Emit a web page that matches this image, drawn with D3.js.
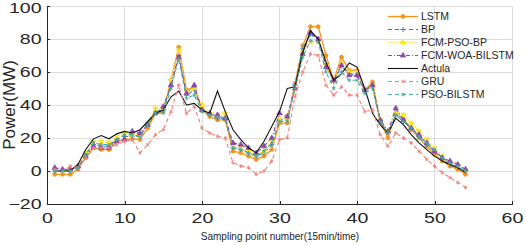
<!DOCTYPE html>
<html lang="en">
<head>
    <meta charset="UTF-8">
    <title>Power forecast comparison</title>
    <script src="https://cdn.jsdelivr.net/npm/d3@7/dist/d3.min.js"></script>
    <style>
        body { margin: 0; background: #fff; }
        .axis path, .axis line {
            fill: none;
            stroke: #262626;
            shape-rendering: crispEdges;
        }
        .axis text {
            font-family: "Liberation Sans", Arial, sans-serif;
            font-size: 14.5px;
            fill: #262626;
        }
        .grid line {
            stroke: #dcdcdc;
            shape-rendering: crispEdges;
        }
        .legend text {
            font-family: "Liberation Sans", Arial, sans-serif;
            font-size: 10.5px;
            fill: #262626;
        }
    </style>
</head>
<body>
<script>
    // x 轴：采样点 1..54
    const samples = d3.range(1, 55);

    const lstm = [-2, -2, -2, 1, 8, 14, 13, 13, 18, 19, 19.5, 19, 26, 35, 36, 55, 75, 49, 51, 37,
        33, 31, 31, 12, 11, 9, 7, 9, 13, 29, 29, 53, 76, 87.5, 87.5, 70, 55, 69, 61, 61,
        49, 54, 30, 20, 35, 31, 25, 20, 15, 10, 6, 3, 1, -2];
    const bp = [0, 0, 0, 2, 10, 16, 15, 15, 19, 21, 21, 21, 28, 36, 37, 52, 70, 46, 49, 37,
        34, 32, 32, 14, 13, 11, 9, 11, 16, 31, 31, 52, 74, 83, 79, 65, 54, 64, 59, 58,
        48, 52, 30, 23, 34, 30, 26, 21, 16, 12, 7, 4, 2, 0];
    const fcmPsoBp = [1, 0, 1, 3, 11, 18, 18, 17, 21, 23, 22, 22, 29, 38, 38, 55, 73, 48, 50, 40,
        35, 34, 35, 15, 14, 12, 10, 12, 18, 32, 32, 50, 72, 78, 79, 64, 55, 65, 60, 60,
        49, 52, 31, 24, 35, 34, 29, 24, 19, 14, 9, 5, 3, 1];
    const fcmWoaBilstm = [2, 1, 1, 3, 9, 15, 14, 14, 18, 19, 24, 23, 28, 35, 39, 52, 69, 47, 52, 37,
        35, 34, 32, 17, 16, 14, 11, 15, 20, 35, 33, 50, 71, 84, 80, 63, 55, 64, 58, 58,
        49, 52, 31, 24, 38, 31, 26, 22, 17, 12, 8, 6, 4, 1];
    const actual = [0, 0, 0, 4, 13, 19.5, 21.5, 19.5, 22.5, 24, 23, 25, 30, 35, 37, 45, 48.5, 40, 41, 37,
        35, 48.5, 36, 25, 19, 14, 11, 18, 27, 36, 50, 51, 72, 85, 80, 66, 55, 59, 65.5, 63,
        50, 35, 28, 23, 32, 28, 22, 17, 13, 9, 6, 4, 2, -1];
    const gru = [1, 0, 3, 2, 8, 14, 14, 14, 16, 18, 19, 11, 16, 22, 25, 36, 52, 35, 39, 26,
        23, 21, 20, 5, 3, 2, -2, 0, 6, 19, 20, 45, 60, 71, 70, 52, 46, 51, 46, 46,
        36, 37, 22, 15, 23, 20, 17, 12, 7, 3, -1, -4, -7, -10];
    const psoBilstm = [0, 0, 0, 2, 10, 17, 16, 16, 19, 22, 22, 21, 28, 35, 35, 50, 68, 44, 46, 36,
        34, 33, 32, 14, 13, 11, 9, 12, 17, 30, 30, 50, 69, 79, 78, 60, 50, 60, 55, 55,
        47, 50, 30, 23, 34, 30, 26, 21, 17, 13, 8, 5, 3, 0];

    const xTicks = [0, 10, 20, 30, 40, 50, 60];
    const yTicks = [-20, 0, 20, 40, 60, 80, 100];

    const series = [
        {name: 'LSTM', values: lstm, color: '#f7941d', dash: null, width: 1.3, symbol: d3.symbolCircle, fill: true, size: 12},
        {name: 'BP', values: bp, color: '#2a7fc1', dash: '4,3', width: 1.1, symbol: d3.symbolPlus, fill: false, size: 10},
        {name: 'FCM-PSO-BP', values: fcmPsoBp, color: '#ffe21a', dash: '1.5,1.5', width: 1.1, symbol: d3.symbolStar, fill: true, size: 9},
        {name: 'FCM-WOA-BILSTM', values: fcmWoaBilstm, color: '#8e44ad', dash: '4,2,1,2', width: 1.1, symbol: d3.symbolTriangle, fill: true, size: 11},
        {name: 'Actula', values: actual, color: '#111', dash: null, width: 1.1, symbol: null},
        {name: 'GRU', values: gru, color: '#ef7f7a', dash: '4,3', width: 1.1, symbol: d3.symbolAsterisk, fill: false, size: 10},
        {name: 'PSO-BILSTM', values: psoBilstm, color: '#4aa99a', dash: '4,3', width: 1.1, symbol: d3.symbolAsterisk, fill: false, size: 10}
    ];

    const w = 526, h = 245;
    const mLeft = 47, mRight = 512, mTop = 6, mBottom = 204;

    const svg = d3.select('body').append('svg')
        .attr('width', w)
        .attr('height', h);

    const xScale = d3.scaleLinear().domain([0, 60]).range([mLeft, mRight]);
    const yScale = d3.scaleLinear().domain([-20, 100]).range([mBottom, mTop]);

    // 网格线
    const grid = svg.append('g').attr('class', 'grid');
    grid.selectAll('.gx').data(xTicks.slice(1)).enter().append('line')
        .attr('x1', d => xScale(d)).attr('x2', d => xScale(d))
        .attr('y1', mTop).attr('y2', mBottom);
    grid.selectAll('.gy').data(yTicks.slice(1)).enter().append('line')
        .attr('x1', mLeft).attr('x2', mRight)
        .attr('y1', d => yScale(d)).attr('y2', d => yScale(d));

    // 曲线
    const line = d3.line()
        .x((d, i) => xScale(samples[i]))
        .y(d => yScale(d));

    series.forEach(s => {
        const g = svg.append('g');
        g.append('path')
            .datum(s.values)
            .attr('fill', 'none')
            .attr('stroke', s.color)
            .attr('stroke-width', s.width)
            .attr('stroke-dasharray', s.dash)
            .attr('d', line);
        if (s.symbol) {
            g.selectAll('path.m')
                .data(s.values)
                .enter()
                .append('path')
                .attr('class', 'm')
                .attr('transform', (d, i) => 'translate(' + xScale(samples[i]) + ',' + yScale(d) + ')')
                .attr('d', d3.symbol().type(s.symbol).size(s.size))
                .attr('fill', s.fill ? s.color : 'none')
                .attr('stroke', s.color)
                .attr('stroke-width', 0.9);
        }
    });

    // 坐标轴（刻度朝内）
    const xAxis = d3.axisBottom(xScale).tickValues(xTicks).tickSizeInner(-3).tickSizeOuter(0).tickPadding(9);
    svg.append('g')
        .attr('class', 'axis')
        .attr('transform', 'translate(0,' + mBottom + ')')
        .call(xAxis)
        .selectAll('text')
        .attr('transform', 'scale(1.35,1)');

    const yAxis = d3.axisLeft(yScale).tickValues(yTicks).tickSizeInner(-3).tickSizeOuter(0).tickPadding(4);
    svg.append('g')
        .attr('class', 'axis')
        .attr('transform', 'translate(' + mLeft + ',0)')
        .call(yAxis)
        .selectAll('text')
        .attr('y', d => d === 100 ? 1.5 : 0)
        .attr('transform', 'scale(1.35,1)');

    // 轴标题
    svg.append('text')
        .attr('transform', 'translate(14.5,' + ((mTop + mBottom) / 2) + ') rotate(-90)')
        .attr('text-anchor', 'middle')
        .attr('font-family', '"Liberation Sans", Arial, sans-serif')
        .attr('font-size', 17)
        .attr('fill', '#262626')
        .text('Power(MW)');

    svg.append('text')
        .attr('x', 280)
        .attr('y', 240)
        .attr('text-anchor', 'middle')
        .attr('font-family', '"Liberation Sans", Arial, sans-serif')
        .attr('font-size', 10)
        .attr('fill', '#262626')
        .text('Sampling point number(15min/time)');

    // 图例
    const legend = svg.append('g').attr('class', 'legend');
    series.forEach((s, i) => {
        const y = 16.5 + i * 13;
        const row = legend.append('g').attr('transform', 'translate(388,' + y + ')');
        row.append('line')
            .attr('x1', 0).attr('x2', 30)
            .attr('stroke', s.color)
            .attr('stroke-width', s.width)
            .attr('stroke-dasharray', s.dash);
        if (s.symbol) {
            row.append('path')
                .attr('transform', 'translate(15,0)')
                .attr('d', d3.symbol().type(s.symbol).size(s.size))
                .attr('fill', s.fill ? s.color : 'none')
                .attr('stroke', s.color)
                .attr('stroke-width', 0.9);
        }
        row.append('text')
            .attr('x', 33)
            .attr('dy', '0.35em')
            .text(s.name);
    });
</script>
</body>
</html>
